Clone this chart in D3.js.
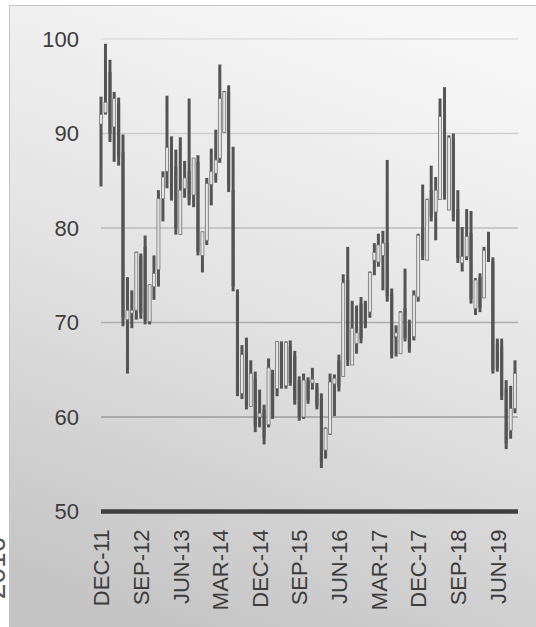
<html>
<head>
<script src="https://d3js.org/d3.v7.min.js"></script>
<style>
  body { margin: 0; background: #fff; }
  text { font-family: Arial, "Liberation Sans", sans-serif; }
</style>
</head>
<body>
<div id="chart"></div>
<script>

// monthly categories, Dec 2011 .. Oct 2019
var months = [
  '2011-12',
  '2012-01','2012-02','2012-03','2012-04','2012-05','2012-06','2012-07','2012-08','2012-09','2012-10','2012-11','2012-12',
  '2013-01','2013-02','2013-03','2013-04','2013-05','2013-06','2013-07','2013-08','2013-09','2013-10','2013-11','2013-12',
  '2014-01','2014-02','2014-03','2014-04','2014-05','2014-06','2014-07','2014-08','2014-09','2014-10','2014-11','2014-12',
  '2015-01','2015-02','2015-03','2015-04','2015-05','2015-06','2015-07','2015-08','2015-09','2015-10','2015-11','2015-12',
  '2016-01','2016-02','2016-03','2016-04','2016-05','2016-06','2016-07','2016-08','2016-09','2016-10','2016-11','2016-12',
  '2017-01','2017-02','2017-03','2017-04','2017-05','2017-06','2017-07','2017-08','2017-09','2017-10','2017-11','2017-12',
  '2018-01','2018-02','2018-03','2018-04','2018-05','2018-06','2018-07','2018-08','2018-09','2018-10','2018-11','2018-12',
  '2019-01','2019-02','2019-03','2019-04','2019-05','2019-06','2019-07','2019-08','2019-09','2019-10'
]

var open = [
  91.0,
  92.2,96.5,90.7,93.2,88.0,70.3,71.0,71.3,77.0,78.0,70.1,73.8,
  75.6,83.1,86.0,88.8,86.5,79.3,84.2,86.0,83.5,87.0,77.1,78.7,
  84.6,85.8,87.4,90.1,94.5,84.0,73.0,62.5,66.8,61.1,64.0,60.0,
  60.8,59.2,64.5,63.0,67.6,63.3,67.5,66.5,63.8,60.0,63.8,63.6,
  63.2,62.0,56.5,58.2,63.5,66.0,64.3,74.5,65.5,67.8,72.0,72.0,
  71.1,76.6,76.4,77.1,78.5,73.0,68.5,66.7,71.5,69.8,68.5,72.7,
  80.0,76.6,84.0,81.7,83.0,92.0,81.9,89.5,82.0,76.3,77.0,79.5,
  71.5,74.8,72.6,78.0,76.5,67.8,67.5,63.0,58.6,60.9
]
var high = [
  93.9,
  99.5,97.8,94.4,93.8,89.9,74.8,73.4,77.5,77.3,79.2,74.0,77.1,
  84.0,86.0,94.0,89.7,88.3,89.6,87.1,93.7,87.4,87.7,79.6,85.3,
  88.4,90.4,97.3,94.5,95.1,88.6,73.5,67.6,68.4,66.0,64.8,62.9,
  61.3,66.2,65.0,68.0,68.0,68.0,68.1,67.0,64.3,64.6,64.2,65.2,
  63.6,62.5,58.9,64.6,64.5,66.6,75.1,78.0,72.3,71.8,72.7,72.3,
  75.4,78.4,79.4,79.7,87.2,73.6,69.7,71.2,75.7,70.3,73.4,79.4,
  84.6,83.1,86.6,85.4,93.7,94.9,89.8,90.0,84.0,80.1,82.0,81.8,
  74.7,75.2,78.0,79.6,76.9,68.3,68.3,63.9,63.3,66.0
]
var low = [
  84.4,
  92.0,89.1,87.0,86.6,69.6,64.6,69.4,70.3,70.4,69.8,69.8,72.4,
  73.8,80.7,84.2,82.9,79.3,79.3,83.2,82.4,82.2,77.1,75.3,78.2,
  82.4,84.8,86.9,90.1,83.8,73.3,62.2,61.9,60.8,61.1,58.4,58.9,
  57.1,58.9,59.8,62.2,63.0,63.0,63.3,61.3,59.6,59.8,61.4,62.9,
  60.8,54.6,55.6,58.1,60.1,62.7,64.3,65.4,65.5,66.7,67.8,69.4,
  70.5,75.0,75.9,73.4,72.2,66.2,66.4,66.7,68.0,66.8,68.1,72.2,
  76.6,76.6,80.7,78.7,83.0,83.0,81.9,80.7,76.3,75.4,76.6,72.0,
  70.8,71.1,72.6,76.4,64.6,64.8,61.8,56.6,57.7,60.4
]
var close = [
  92.0,
  93.3,90.0,93.7,87.5,70.5,71.3,71.3,77.4,71.0,70.2,74.0,75.2,
  83.1,85.4,88.5,83.5,80.0,84.0,85.3,83.0,87.4,77.5,79.6,84.7,
  86.0,87.2,93.7,94.4,84.5,73.8,62.6,66.6,61.2,64.6,59.0,60.4,
  57.8,65.2,60.2,68.0,63.4,67.9,63.6,61.8,60.0,63.9,61.8,64.0,
  61.2,55.3,58.8,63.7,64.1,63.2,74.2,66.0,69.4,68.9,68.3,69.8,
  75.3,77.4,78.2,78.4,72.8,66.6,68.9,71.1,68.4,67.2,72.9,79.2,
  77.0,83.0,81.2,84.0,91.8,83.5,89.6,81.2,76.8,77.0,79.1,72.5,
  74.5,71.6,77.6,76.8,65.0,65.2,62.2,57.2,60.9,64.6
]

var yTicks = [50, 60, 70, 80, 90, 100]
var xTickLabels = ['2011-12','2012-09','2013-06','2014-03','2014-12','2015-09','2016-06','2017-03','2017-12','2018-09','2019-06']
var sideLabel = '2016'

var parseMonth = d3.timeParse('%Y-%m')
var data = months.map(function(m, i) {
  return { date: parseMonth(m), o: open[i], h: high[i], l: low[i], c: close[i] }
})

var width = 536
var height = 627

var svg = d3.select('#chart').append('svg')
  .attr('width', width)
  .attr('height', height)

// background gradient
var defs = svg.append('defs')
var grad = defs.append('linearGradient')
  .attr('id', 'bg')
  .attr('x1', '0.65').attr('y1', '0')
  .attr('x2', '0.35').attr('y2', '1')
grad.append('stop').attr('offset', '0%').attr('stop-color', '#f7f7f7')
grad.append('stop').attr('offset', '50%').attr('stop-color', '#e2e2e2')
grad.append('stop').attr('offset', '100%').attr('stop-color', '#c4c4c4')

// clipped side label behind the chart panel
svg.append('text')
  .attr('transform', 'translate(5,568) rotate(-90)')
  .attr('text-anchor', 'middle')
  .style('font-size', '28px')
  .attr('fill', '#555')
  .text(sideLabel)

svg.append('rect')
  .attr('x', 9.5)
  .attr('y', 5.5)
  .attr('width', 540)
  .attr('height', 640)
  .attr('fill', 'url(#bg)')
  .attr('stroke', '#c4c4c4')
  .attr('stroke-width', 1)

var xs = d3.scaleTime()
  .domain([data[0].date, data[data.length - 1].date])
  .range([101, 515])
var ys = d3.scaleLinear().domain([50, 100]).range([511.5, 39])

var gridColor = d3.scaleLinear().domain([60, 100]).range(['#9c9c9c', '#dedede'])

// gridlines
svg.append('g')
  .selectAll('line')
  .data(yTicks.filter(function(d) { return d > 50 }))
  .enter()
  .append('line')
  .attr('x1', 101)
  .attr('x2', 518)
  .attr('y1', function(d) { return ys(d) })
  .attr('y2', function(d) { return ys(d) })
  .attr('stroke', function(d) { return gridColor(d) })
  .attr('stroke-width', 1.5)

// y axis labels
var yAxis = svg.append('g')
  .attr('transform', 'translate(79,0)')
  .call(d3.axisLeft(ys).tickValues(yTicks).tickSize(0).tickPadding(0))
yAxis.select('.domain').remove()
yAxis.selectAll('text')
  .style('font-size', '22px')
  .attr('fill', '#3c3c3c')

// candles
var candles = svg.append('g')
  .selectAll('g')
  .data(data)
  .enter()
  .append('g')
  .attr('transform', function(d) { return 'translate(' + xs(d.date) + ',0)' })

candles.append('rect')
  .attr('x', -1.5)
  .attr('width', 3)
  .attr('y', function(d) { return ys(d.h) })
  .attr('height', function(d) { return ys(d.l) - ys(d.h) })
  .attr('fill', '#545454')

candles.append('rect')
  .attr('x', -1.5)
  .attr('width', 3)
  .attr('y', function(d) { return ys(Math.max(d.o, d.c)) })
  .attr('height', function(d) { return Math.max(1, Math.abs(ys(d.o) - ys(d.c))) })
  .attr('fill', function(d) { return d.c >= d.o ? '#e4e4e4' : '#545454' })
  .attr('stroke', function(d) { return d.c >= d.o ? '#7a7a7a' : 'none' })
  .attr('stroke-width', 0.8)

// baseline at 50
svg.append('line')
  .attr('x1', 101)
  .attr('x2', 518)
  .attr('y1', ys(50))
  .attr('y2', ys(50))
  .attr('stroke', '#3e3e3e')
  .attr('stroke-width', 4.5)

// x axis labels
var fmt = d3.timeFormat('%b-%y')
var xAxis = svg.append('g')
  .attr('transform', 'translate(0,' + (ys(50) + 18) + ')')
  .call(d3.axisBottom(xs)
    .tickValues(xTickLabels.map(parseMonth))
    .tickFormat(function(d) { return fmt(d).toUpperCase() })
    .tickSize(0)
    .tickPadding(0))
xAxis.select('.domain').remove()
xAxis.selectAll('text')
  .attr('transform', 'rotate(-90)')
  .attr('text-anchor', 'end')
  .attr('x', 0)
  .attr('y', 0)
  .attr('dy', '0.35em')
  .style('font-size', '22px')
  .attr('fill', '#3c3c3c')

</script>
</body>
</html>
